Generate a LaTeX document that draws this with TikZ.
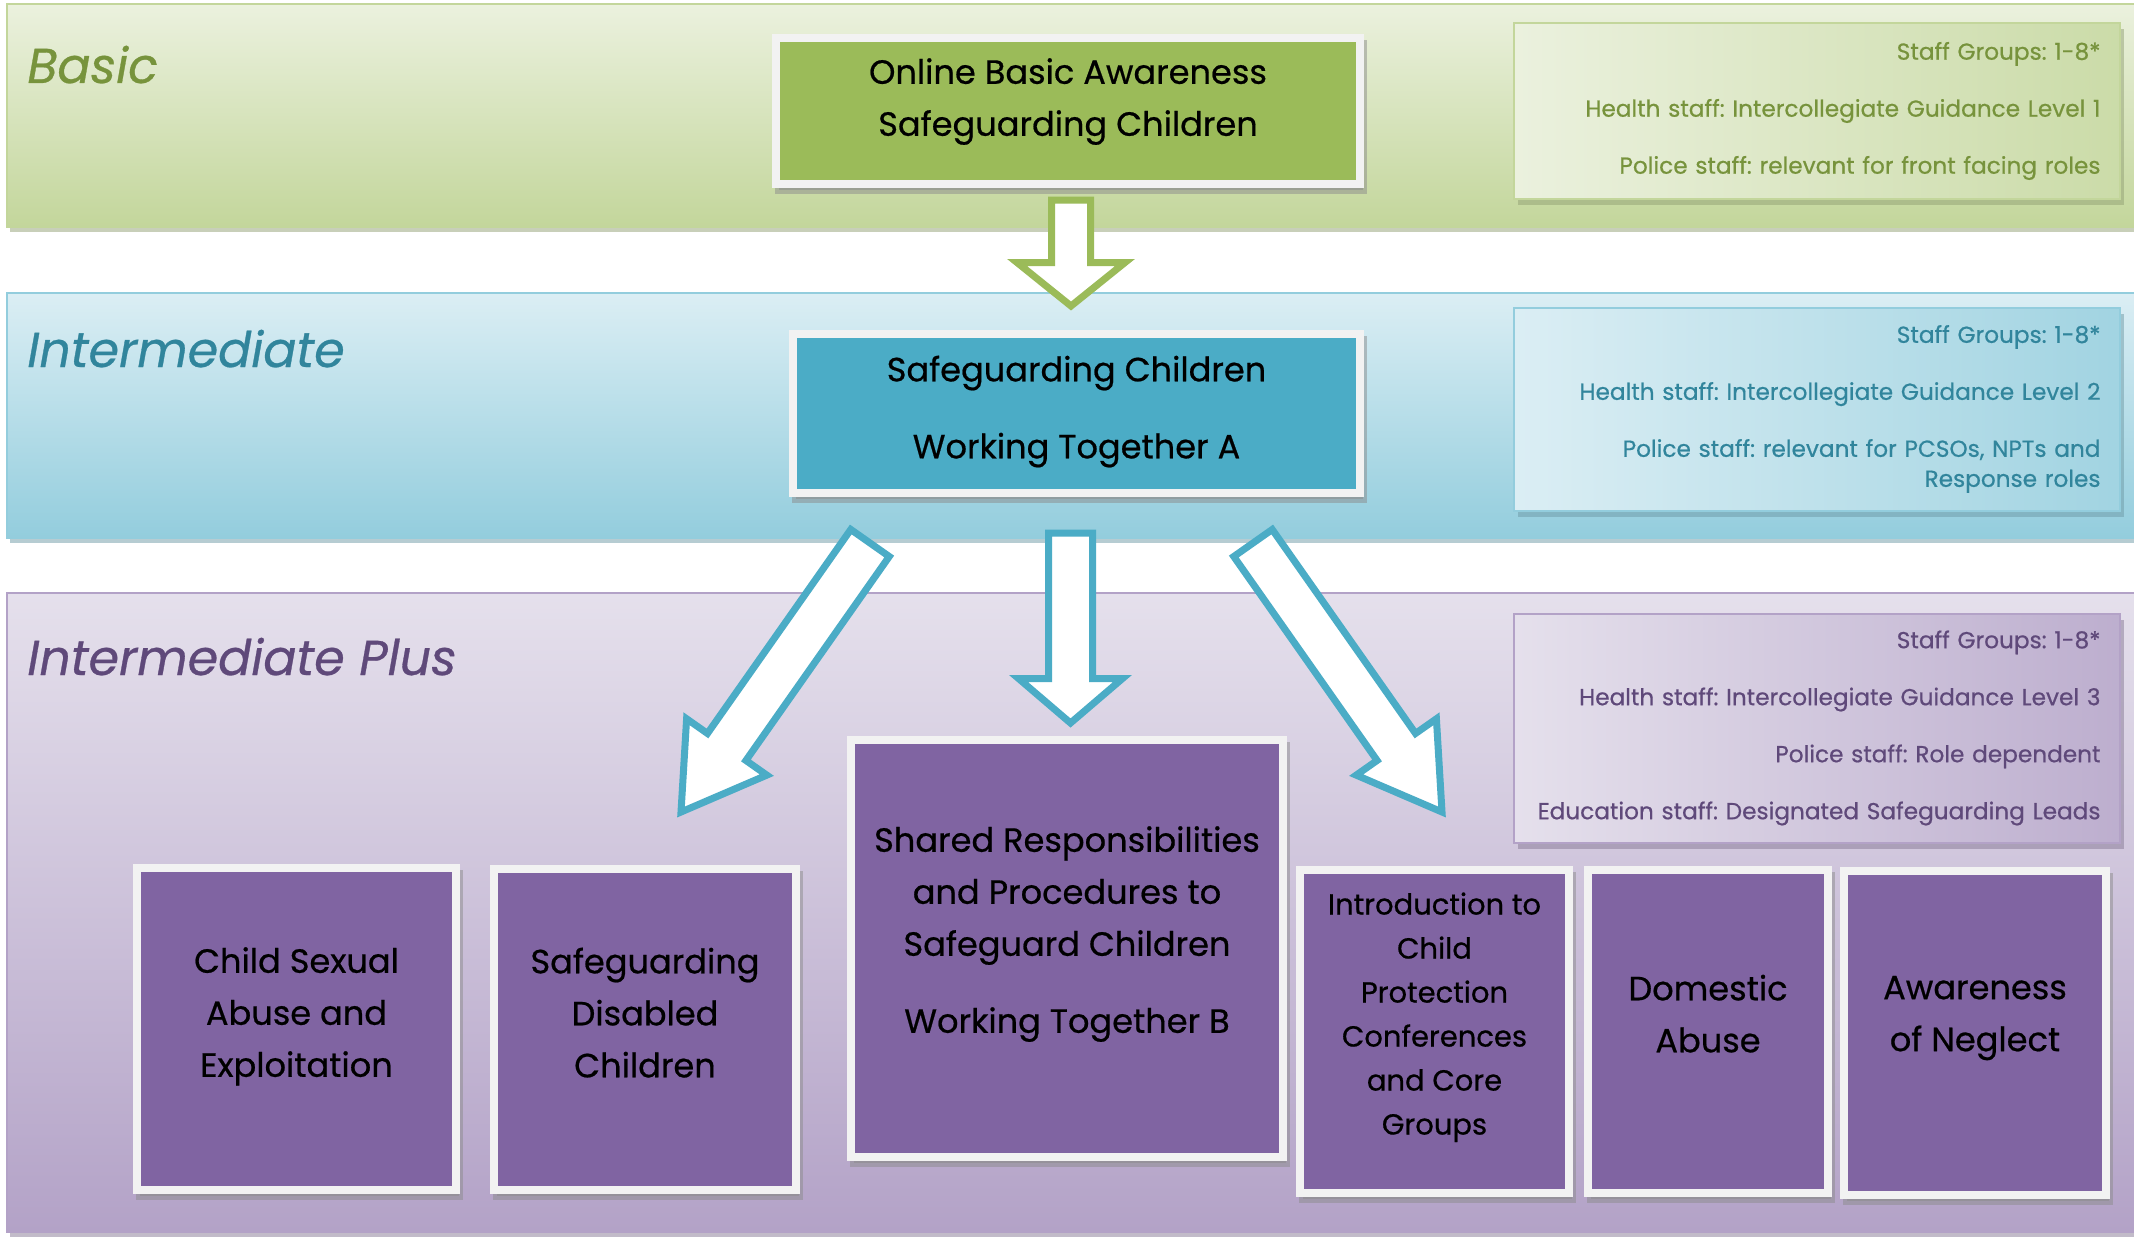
\documentclass[tikz,border=0pt]{standalone}
\usepackage{fontspec}
\setmainfont{Poppins}[RawFeature={embolden=0.6}]
\usepackage{tikz}
\usetikzlibrary{calc,shadows}
\definecolor{basic-green}{HTML}{9BBB59}
\definecolor{basic-dark}{HTML}{77933C}
\definecolor{basic-light}{HTML}{EBF1DE}
\definecolor{basic-mid}{HTML}{C3D69B}
\definecolor{inter-teal}{HTML}{4BACC6}
\definecolor{inter-dark}{HTML}{31859C}
\definecolor{inter-light}{HTML}{DBEEF4}
\definecolor{inter-mid}{HTML}{93CDDD}
\definecolor{plus-purple}{HTML}{8064A2}
\definecolor{plus-dark}{HTML}{5F497A}
\definecolor{plus-light}{HTML}{E5E0EC}
\definecolor{plus-mid}{HTML}{B3A2C7}
\definecolor{frame-grey}{HTML}{F2F2F2}
\tikzset{
    level-band/.style = {draw=#1-mid, line width=1pt, top color=#1-light, bottom color=#1-mid,
        drop shadow={shadow xshift=1.5pt, shadow yshift=-2.5pt, fill=#1-mid!75!black}},
    level-title/.style = {anchor=base west, inner sep=0pt, text=#1-dark, font=\fontsize{24.5}{30}\selectfont\itshape},
    course-box/.style = {draw=frame-grey, fill=#1, line width=4pt, inner sep=0pt, align=center,
        font=\fontsize{16.8}{26}\selectfont,
        drop shadow={shadow xshift=1.5pt, shadow yshift=-3pt, fill=black!45, draw=black!45}},
    info-box/.style = {draw=#1-mid, line width=1pt, left color=#1-light, right color=#1-mid!80!#1-light,
        minimum width=303pt, inner xsep=9.5pt, text width=284pt, align=right, text=#1-dark,
        font=\fontsize{11.6}{15}\selectfont,
        drop shadow={shadow xshift=2pt, shadow yshift=-3pt, fill=#1-mid!75!black}},
    fat-arrow/.style args = {#1/#2/#3/#4}{draw=#1, fill=white, line width=3.5pt, line join=miter,
        to path={($(\tikztostart)!#2!90:(\tikztotarget)$)
        -- ($(\tikztotarget)!#4!(\tikztostart)!#2!-90:(\tikztostart)$)
        -- ($(\tikztotarget)!#4!(\tikztostart)!#3!-90:(\tikztostart)$)
        -- (\tikztotarget)
        -- ($(\tikztotarget)!#4!(\tikztostart)!#3!90:(\tikztostart)$)
        -- ($(\tikztotarget)!#4!(\tikztostart)!#2!90:(\tikztostart)$)
        -- ($(\tikztostart)!#2!-90:(\tikztotarget)$) -- cycle}},
}

\begin{document}
\frenchspacing
\hyphenpenalty=10000
\begin{tikzpicture}[x=0.5pt, y=-0.5pt]
\useasboundingbox (0,0) rectangle (2134,1236);
\fill[white] (0,0) rectangle (2134,1236);

\path[level-band=basic] (7,4) rectangle (2150,227);
\path[level-band=inter] (7,293) rectangle (2150,538);
\path[level-band=plus] (7,593) rectangle (2150,1232);

\node[level-title=basic] (basic-title) at (27,83) {Basic};
\node[level-title=inter] (inter-title) at (27,367) {Intermediate};
\node[level-title=plus] (plus-title) at (27,675) {Intermediate Plus};

\node[info-box=basic, minimum height=87.5pt] (basic-info) at (1816.5,111) {Staff Groups: 1-8*\\[13.5pt]
    Health staff: Intercollegiate Guidance Level 1\\[13.5pt]
    Police staff: relevant for front facing roles};
\node[info-box=inter, minimum height=101.5pt] (inter-info) at (1816.5,409) {Staff Groups: 1-8*\\[13.5pt]
    Health staff: Intercollegiate Guidance Level 2\\[13.5pt]
    Police staff: relevant for PCSOs, NPTs and\\Response roles};
\node[info-box=plus, minimum height=114.5pt] (plus-info) at (1816.5,728) {Staff Groups: 1-8*\\[13.5pt]
    Health staff: Intercollegiate Guidance Level 3\\[13.5pt]
    Police staff: Role dependent\\[13.5pt]
    Education staff: Designated Safeguarding Leads};

\node[course-box=basic-green, minimum width=292pt, minimum height=73pt, text depth=14pt] (basic-box) at (1068,111)
    {Online Basic Awareness\\Safeguarding Children};
\node[course-box=inter-teal, minimum width=283.5pt, minimum height=79.5pt, text depth=6.5pt] (inter-box) at (1076.5,413.5)
    {Safeguarding Children\\[12.5pt]Working Together A};
\node[course-box=plus-purple, minimum width=159.5pt, minimum height=161pt, text depth=17pt] (csa-box) at (296.5,1029)
    {Child Sexual\\Abuse and\\Exploitation};
\node[course-box=plus-purple, minimum width=151pt, minimum height=160.5pt, text depth=17pt] (disabled-box) at (645,1029.5)
    {Safeguarding\\Disabled\\Children};
\node[course-box=plus-purple, minimum width=216pt, minimum height=208.5pt, text depth=19pt] (shared-box) at (1067,948.5)
    {Shared Responsibilities\\and Procedures to\\Safeguard Children\\[12.5pt]Working Together B};
\node[course-box=plus-purple, minimum width=134.5pt, minimum height=161.5pt, text depth=18pt,
    font=\fontsize{14.5}{22}\selectfont] (intro-box) at (1434.5,1031.5)
    {Introduction to\\Child\\Protection\\Conferences\\and Core\\Groups};
\node[course-box=plus-purple, minimum width=120pt, minimum height=161.5pt, text depth=18pt] (domestic-box) at (1708,1031.5)
    {Domestic\\Abuse};
\node[course-box=plus-purple, minimum width=131pt, minimum height=162pt, text depth=19pt] (neglect-box) at (1975,1032.5)
    {Awareness\\of Neglect};

\coordinate (basic-out) at (1071,200);
\coordinate (inter-in) at (1071,306);
\coordinate (inter-out) at (1070.5,533);
\coordinate (shared-in) at (1070.5,723);
\coordinate (left-out) at (870,543);
\coordinate (left-in) at (681,812);
\coordinate (right-out) at (1253,543);
\coordinate (right-in) at (1442,812);

\draw[fat-arrow={basic-green/9.75pt/27pt/21.75pt}] (basic-out) to (inter-in);
\draw[fat-arrow={inter-teal/11pt/26pt/22.25pt}] (inter-out) to (shared-in);
\draw[fat-arrow={inter-teal/11.75pt/24.5pt/39.75pt}] (left-out) to (left-in);
\draw[fat-arrow={inter-teal/11.75pt/24.5pt/39.75pt}] (right-out) to (right-in);
\end{tikzpicture}
\end{document}
